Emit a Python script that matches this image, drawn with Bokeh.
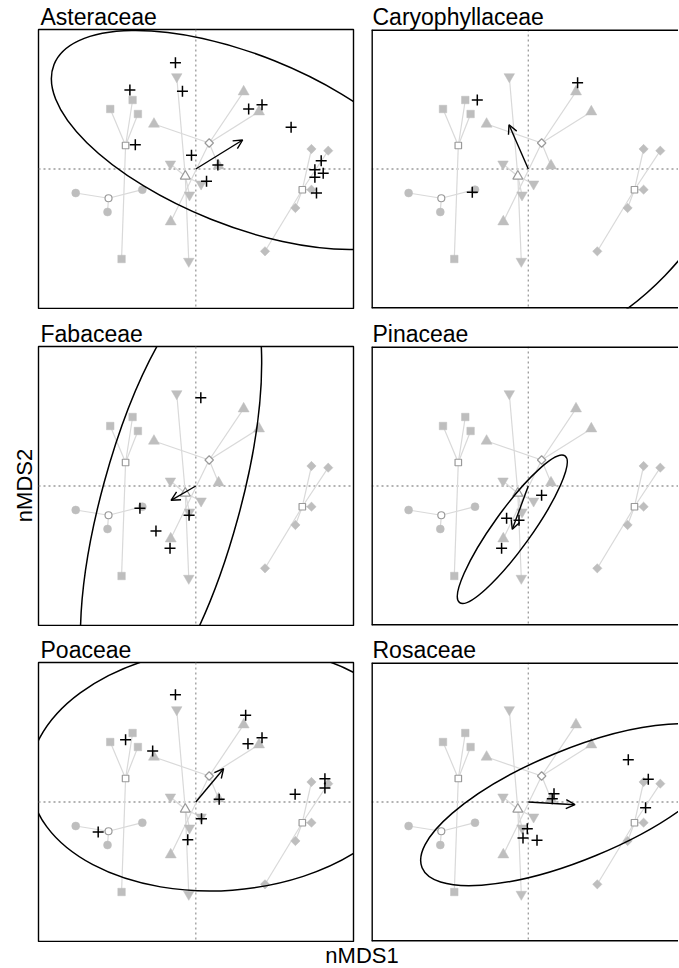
import numpy as np
from bokeh.plotting import figure
from bokeh.layouts import row, column
from bokeh.models import Arrow, OpenHead, Span, Range1d
from bokeh.core.properties import value
from bokeh.embed import file_html
from bokeh.resources import INLINE

FONT = "Liberation Sans"

families = ["Asteraceae", "Caryophyllaceae", "Fabaceae", "Pinaceae", "Poaceae", "Rosaceae"]

# background site scores (nMDS1, nMDS2) by habitat group
circ_x = [-1.197, -0.533, -0.880]
circ_y = [-0.240, -0.207, -0.430]
sq_x = [-0.853, -0.630, -0.577, -0.740]
sq_y = [0.600, 0.690, 0.550, -0.900]
tri_x = [-0.417, 0.477, 0.630, 0.227, -0.250]
tri_y = [0.450, 0.773, 0.573, 0.033, -0.527]
itri_x = [-0.190, -0.253, 0.053, -0.063, -0.070]
itri_y = [0.923, 0.050, -0.150, -0.260, -0.923]
dia_x = [1.153, 1.320, 1.153, 0.993, 0.690]
dia_y = [0.200, 0.183, -0.207, -0.390, -0.823]

# species scores per family
sp_x = {
    "Asteraceae": [-0.203, -0.133, -0.657, -0.603, 0.527, 0.660, 0.950, -0.043, 0.220, 0.107, 1.250, 1.187, 1.270, 1.187, 1.203],
    "Caryophyllaceae": [-0.510, 0.493, -0.560],
    "Fabaceae": [0.050, -0.557, -0.067, -0.397, -0.257],
    "Pinaceae": [0.133, -0.217, -0.093, -0.267],
    "Poaceae": [-0.203, 0.497, 0.520, 0.660, -0.700, -0.430, 0.233, 0.057, -0.080, -0.973, 0.990, 1.287, 1.287],
    "Rosaceae": [1.000, 1.200, 1.173, 0.257, 0.240, -0.010, -0.053, 0.087],
}
sp_y = {
    "Asteraceae": [1.063, 0.777, 0.790, 0.243, 0.600, 0.643, 0.417, 0.137, 0.040, -0.123, 0.083, -0.007, -0.043, -0.083, -0.240],
    "Caryophyllaceae": [0.690, 0.863, -0.233],
    "Fabaceae": [0.883, -0.223, -0.293, -0.450, -0.623],
    "Pinaceae": [-0.093, -0.323, -0.343, -0.623],
    "Poaceae": [1.073, 0.867, 0.583, 0.643, 0.623, 0.510, 0.027, -0.167, -0.377, -0.300, 0.077, 0.233, 0.140],
    "Rosaceae": [0.423, 0.227, -0.057, 0.083, 0.033, -0.267, -0.360, -0.383],
}

# family centroids (arrow tips = ellipse centres)
cen_x = [0.467, -0.193, -0.247, -0.160, 0.277, 0.467]
cen_y = [0.290, 0.443, -0.143, -0.433, 0.333, -0.027]
# ellipse semi-axes and rotation (degrees)
ell_a = [2.025, 2.17, 2.317, 0.903, 1.937, 1.654]
ell_b = [0.854, 2.60, 0.692, 0.190, 1.218, 0.549]
ell_ang = [-21.8, -44.0, 74.7, 54.3, 4.2, 22.4]

X0, X1 = -1.568, 1.572
Y0, Y1 = -1.395, 1.395
XR_RIGHT = X0 + 3.07

FILL = "#bebebe"
SPIDER = "#d9d9d9"
CEN = "#9a9a9a"
DOT = "#9a9a9a"

LEFT_W, RIGHT_W = 333, 309
FRAME_H = 279
TOP_BORDERS = [29, 37, 36]
STRIP_W = 36
MAIN_W = LEFT_W + RIGHT_W


def add_background(p):
    groups = [
        (circ_x, circ_y, dict(marker="circle", size=8), dict(marker="circle", size=7)),
        (sq_x, sq_y, dict(marker="square", size=7.5), dict(marker="square", size=6.5)),
        (tri_x, tri_y, dict(marker="triangle", size=11), dict(marker="square", size=6, angle=np.pi / 4)),
        (itri_x, itri_y, dict(marker="inverted_triangle", size=10.5), dict(marker="triangle", size=10)),
        (dia_x, dia_y, dict(marker="square", size=6.6, angle=np.pi / 4), dict(marker="square", size=6.5)),
    ]
    for gx, gy, _, _ in groups:
        cx, cy = float(np.mean(gx)), float(np.mean(gy))
        p.segment(x0=[cx] * len(gx), y0=[cy] * len(gy), x1=gx, y1=gy,
                  line_color=SPIDER, line_width=1.2)
    for gx, gy, mk, _ in groups:
        p.scatter(x=gx, y=gy, fill_color=FILL, line_color=FILL, line_width=0.5, **mk)
    for gx, gy, _, ck in groups:
        cx, cy = float(np.mean(gx)), float(np.mean(gy))
        p.scatter(x=[cx], y=[cy], fill_color="white", line_color=CEN, line_width=1.2, **ck)


def make_panel(i):
    fam = families[i]
    left = (i % 2 == 0)
    top = TOP_BORDERS[i // 2]
    w = LEFT_W if left else RIGHT_W
    xr = Range1d(X0, X1 if left else XR_RIGHT)
    p = figure(width=w, height=top + FRAME_H + 1, x_range=xr, y_range=Range1d(Y0, Y1),
               x_axis_type=None, y_axis_type=None, toolbar_location=None,
               output_backend="svg", min_border_left=2,
               min_border_right=16 if left else 0, min_border_top=top,
               min_border_bottom=1, title=fam)
    p.title.text_font = FONT
    p.title.text_font_size = "23px"
    p.title.text_font_style = "normal"
    p.title.text_color = "black"
    p.title.align = "left"
    p.title.offset = 2 if left else 1
    p.title.standoff = 0
    p.background_fill_color = "white"
    p.border_fill_color = "white"
    for dim in ["width", "height"]:
        p.add_layout(Span(location=0, dimension=dim, line_color=DOT,
                          line_width=1.3, line_dash="2 3", level="underlay"))
    add_background(p)
    p.scatter(x=sp_x[fam], y=sp_y[fam], marker="cross", size=11,
              line_color="black", line_width=1.5)
    p.add_layout(Arrow(end=OpenHead(size=9, line_width=1.4, line_color="black"),
                       x_start=0, y_start=0, x_end=cen_x[i], y_end=cen_y[i],
                       line_width=1.4, line_color="black"))
    p.ellipse(x=[cen_x[i]], y=[cen_y[i]], width=[2 * ell_a[i]], height=[2 * ell_b[i]],
              angle=[np.deg2rad(ell_ang[i])], fill_color=None,
              line_color="black", line_width=1.5)
    if left:
        p.outline_line_color = "black"
        p.outline_line_width = 1.4
    else:
        p.outline_line_color = None
        for loc, dim in [(Y1, "width"), (Y0, "width"), (X0, "height")]:
            p.add_layout(Span(location=loc, dimension=dim, line_color="black",
                              line_width=2.8))
    return p


def strip(width, height):
    s = figure(width=width, height=height, x_range=Range1d(0, width),
               y_range=Range1d(0, height), x_axis_type=None, y_axis_type=None,
               toolbar_location=None, output_backend="svg", min_border=0)
    s.outline_line_color = None
    s.background_fill_color = "white"
    s.border_fill_color = "white"
    return s


panels = [make_panel(i) for i in range(6)]

used = sum(TOP_BORDERS) + 3 * (FRAME_H + 1)
bottom_h = 968 - used
bottom_strip = strip(MAIN_W, bottom_h)
bottom_strip.text(x=[361.5 - STRIP_W], y=[13], text=["nMDS1"],
                  text_font=value(FONT), text_font_size="22px", text_color="black",
                  text_align="center", text_baseline="alphabetic")

left_strip = strip(STRIP_W, 968)
left_strip.text(x=[24], y=[968 - 485], text=["nMDS2"], angle=[np.pi / 2],
                text_font=value(FONT), text_font_size="22px", text_color="black",
                text_align="center", text_baseline="alphabetic")

grid = column(row(panels[0], panels[1]), row(panels[2], panels[3]),
              row(panels[4], panels[5]), bottom_strip)
layout = row(left_strip, grid)

open("out.html", "w").write(file_html(layout, INLINE))
